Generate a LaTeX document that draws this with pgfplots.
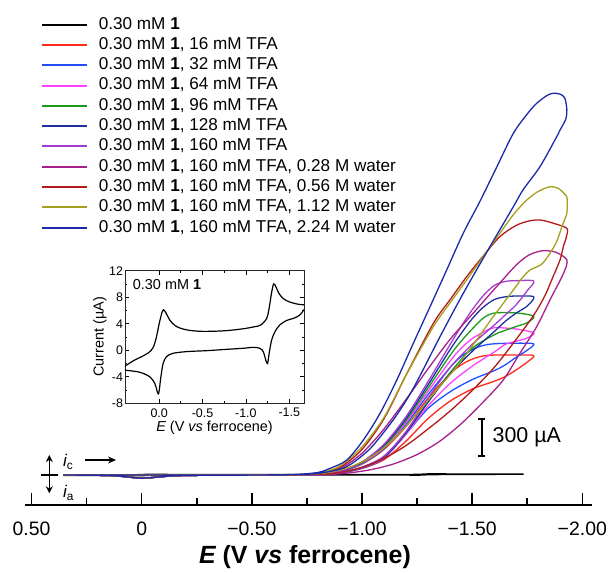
\documentclass[border=0pt]{standalone}
\usepackage{fontspec}
\setmainfont{Liberation Sans}
\usepackage{pgfplots}
\pgfplotsset{compat=1.18}
\usetikzlibrary{arrows.meta}

\definecolor{cA}{HTML}{000000}
\definecolor{cB}{HTML}{FF2A1A}
\definecolor{cC}{HTML}{1F4FFF}
\definecolor{cD}{HTML}{FF40FF}
\definecolor{cE}{HTML}{1A9A1A}
\definecolor{cF}{HTML}{2030A0}
\definecolor{cG}{HTML}{A33CD0}
\definecolor{cH}{HTML}{A8208A}
\definecolor{cI}{HTML}{B51A1A}
\definecolor{cJ}{HTML}{A5A020}
\definecolor{cK}{HTML}{1A2AAA}

\begin{document}
\begin{tikzpicture}
% ---------------- main voltammograms ----------------
\begin{axis}[
  at={(25bp,68bp)}, anchor=south west,
  scale only axis, width=566.7bp, height=505bp,
  x dir=reverse, xmin=-2.0427, xmax=0.5297,
  ymin=-234.4, ymax=3710.9,
  axis x line*=bottom, axis y line=none,
  axis line style={-, line width=1.6bp},
  xtick={0.5,0,-0.5,-1,-1.5,-2},
  xticklabels={0.50,0,−0.50,−1.00,−1.50,−2.00},
  minor xtick={0.25,-0.25,-0.75,-1.25,-1.75},
  tick align=inside,
  major tick length=12bp, minor tick length=7bp,
  every tick/.style={black, line width=1.5bp},
  xticklabel style={font=\fontsize{19.5}{21}\selectfont, yshift=-13bp},
  xlabel={\itshape E\upshape\ (V \itshape vs\upshape\ ferrocene)},
  xlabel style={font=\fontsize{25}{27}\selectfont\bfseries,
    at={(axis description cs:0.494,-0.1030)}, anchor=center},
  clip=false,
  every axis plot post/.append style={line width=1.3bp},
  legend style={at={(0.0277,0.9674)}, anchor=north west, draw=none, fill=none,
    inner sep=0pt, font=\fontsize{17.2}{19}\selectfont, row sep=4.3bp,
    cells={anchor=west},
    nodes={inner sep=0pt, text height=12.4bp, text depth=3.6bp}},
  legend image code/.code={\draw[#1, line width=2bp] (0bp,0bp) -- (45.6bp,0bp);
    \path (56.3bp,0bp);},
]
% 0.30 mM 1
\addplot[cA, smooth, tension=0.5] coordinates {
 (0.355,-2.0) (0.30,-1.6) (0.20,-0.95) (0.12,-0.35) (0.07,0.4) (0.035,1.8) (0.0,4.0)
 (-0.03,5.6) (-0.05,6.1) (-0.08,5.6) (-0.12,4.6) (-0.18,3.75) (-0.25,3.3) (-0.35,3.0)
 (-0.5,2.85) (-0.7,2.9) (-0.85,3.05) (-1.0,3.3) (-1.1,3.55) (-1.17,3.8) (-1.24,4.8)
 (-1.27,6.5) (-1.295,8.6) (-1.32,10.0) (-1.345,9.6) (-1.38,8.6) (-1.43,7.8) (-1.5,7.3)
 (-1.6,6.95) (-1.73,6.8)
 (-1.70,5.6) (-1.62,5.1) (-1.546,4.8) (-1.47,4.5) (-1.39,3.8) (-1.335,2.8) (-1.296,1.5)
 (-1.268,-0.5) (-1.25,-2.0) (-1.23,-1.5) (-1.2,-0.2) (-1.16,0.3) (-1.085,0.44) (-0.97,0.3)
 (-0.78,0.14) (-0.55,-0.06) (-0.32,-0.2) (-0.16,-0.46) (-0.085,-0.96) (-0.046,-1.97)
 (-0.02,-4.0) (0.005,-6.5) (0.025,-6.1) (0.05,-5.0) (0.108,-4.0) (0.22,-3.33) (0.355,-3.0)};
\addlegendentry{0.30 mM \textbf{1}}
% 16 mM TFA
\addplot[cB, smooth, tension=0.5] coordinates {
 (0.355,0) (0,0) (-0.5,0) (-0.7,2) (-0.8,5) (-0.9,25) (-1.0,85) (-1.1,200) (-1.2,379)
 (-1.3,601) (-1.4,790) (-1.45,860) (-1.5,905) (-1.55,930) (-1.6,937) (-1.7,938) (-1.78,933)
 (-1.75,882) (-1.7,821) (-1.65,769) (-1.6,732) (-1.5,671) (-1.4,577) (-1.3,441) (-1.2,265)
 (-1.1,120) (-1.0,51) (-0.9,15) (-0.8,3) (-0.6,0) (-0.3,-2) (-0.15,-6) (-0.08,-15) (0,-25)
 (0.07,-14) (0.15,-4) (0.355,0)};
\addlegendentry{0.30 mM \textbf{1}, 16 mM TFA}
% 32 mM TFA
\addplot[cC, smooth, tension=0.5] coordinates {
 (0.355,0) (0,0) (-0.5,0) (-0.7,2) (-0.8,5) (-0.9,26) (-1.0,88) (-1.1,208) (-1.2,395)
 (-1.3,628) (-1.4,840) (-1.45,925) (-1.5,980) (-1.55,1012) (-1.6,1025) (-1.7,1030) (-1.78,1024)
 (-1.75,975) (-1.7,920) (-1.65,860) (-1.6,815) (-1.5,745) (-1.4,650) (-1.3,520) (-1.2,320)
 (-1.1,130) (-1.0,53) (-0.9,16) (-0.8,3) (-0.6,0) (-0.3,-2) (-0.15,-6) (-0.08,-15) (0,-25)
 (0.07,-14) (0.15,-4) (0.355,0)};
\addlegendentry{0.30 mM \textbf{1}, 32 mM TFA}
% 64 mM TFA
\addplot[cD, smooth, tension=0.5] coordinates {
 (0.355,0) (0,0) (-0.5,0) (-0.7,2) (-0.8,5) (-0.9,27) (-1.0,92) (-1.1,216) (-1.2,410)
 (-1.3,655) (-1.4,890) (-1.45,990) (-1.5,1065) (-1.55,1115) (-1.6,1150) (-1.7,1140) (-1.78,1110)
 (-1.75,1070) (-1.7,1045) (-1.65,1020) (-1.6,960) (-1.5,850) (-1.4,715) (-1.3,540) (-1.2,320)
 (-1.1,135) (-1.0,56) (-0.9,16) (-0.8,3) (-0.6,0) (-0.3,-2) (-0.15,-6) (-0.08,-15) (0,-25)
 (0.07,-14) (0.15,-4) (0.355,0)};
\addlegendentry{0.30 mM \textbf{1}, 64 mM TFA}
% 96 mM TFA
\addplot[cE, smooth, tension=0.5] coordinates {
 (0.355,0) (0,0) (-0.5,0) (-0.7,2) (-0.8,6) (-0.9,28) (-1.0,95) (-1.1,224) (-1.2,426)
 (-1.3,680) (-1.4,935) (-1.45,1045) (-1.5,1140) (-1.55,1225) (-1.6,1265) (-1.7,1266) (-1.78,1240)
 (-1.75,1190) (-1.7,1160) (-1.65,1130) (-1.6,1095) (-1.5,990) (-1.4,800) (-1.3,570) (-1.2,330)
 (-1.1,140) (-1.0,58) (-0.9,17) (-0.8,4) (-0.6,0) (-0.3,-2) (-0.15,-6) (-0.08,-15) (0,-25)
 (0.07,-14) (0.15,-4) (0.355,0)};
\addlegendentry{0.30 mM \textbf{1}, 96 mM TFA}
% 128 mM TFA
\addplot[cF, smooth, tension=0.5] coordinates {
 (0.355,0) (0,0) (-0.5,0) (-0.7,2) (-0.8,6) (-0.9,29) (-1.0,99) (-1.1,232) (-1.2,441)
 (-1.3,705) (-1.4,980) (-1.45,1105) (-1.5,1220) (-1.55,1310) (-1.6,1370) (-1.65,1392) (-1.7,1398) (-1.78,1392)
 (-1.75,1320) (-1.7,1265) (-1.65,1200) (-1.6,1120) (-1.5,965) (-1.4,790) (-1.3,570) (-1.2,330)
 (-1.1,142) (-1.0,59) (-0.9,17) (-0.8,4) (-0.6,0) (-0.3,-2) (-0.15,-6) (-0.08,-15) (0,-25)
 (0.07,-14) (0.15,-4) (0.355,0)};
\addlegendentry{0.30 mM \textbf{1}, 128 mM TFA}
% 160 mM TFA
\addplot[cG, smooth, tension=0.5] coordinates {
 (0.355,0) (0,0) (-0.5,0) (-0.7,2) (-0.8,6) (-0.9,30) (-1.0,102) (-1.1,240) (-1.2,456)
 (-1.3,730) (-1.4,1020) (-1.45,1160) (-1.5,1290) (-1.55,1400) (-1.6,1480) (-1.65,1512) (-1.7,1518) (-1.78,1515)
 (-1.75,1440) (-1.7,1330) (-1.65,1250) (-1.6,1170) (-1.5,1020) (-1.4,840) (-1.3,600) (-1.2,340)
 (-1.1,148) (-1.0,61) (-0.9,18) (-0.8,4) (-0.6,0) (-0.3,-2) (-0.15,-6) (-0.08,-15) (0,-25)
 (0.07,-14) (0.15,-4) (0.355,0)};
\addlegendentry{0.30 mM \textbf{1}, 160 mM TFA}
% 160 mM TFA, 0.28 M water
\addplot[cH, smooth, tension=0.5] coordinates {
 (0.355,0) (0,0) (-0.5,0) (-0.7,2) (-0.8,10) (-0.9,50) (-1.0,170) (-1.1,360) (-1.2,590)
 (-1.3,830) (-1.4,1060) (-1.5,1255) (-1.6,1450) (-1.7,1640) (-1.76,1720) (-1.82,1752)
 (-1.88,1740) (-1.93,1680)
 (-1.915,1576) (-1.853,1367) (-1.793,1159) (-1.717,951) (-1.641,742) (-1.55,570) (-1.45,400)
 (-1.35,260) (-1.25,160) (-1.15,90) (-1.05,45) (-0.95,18) (-0.85,5) (-0.6,0) (-0.3,-2)
 (-0.15,-6) (-0.08,-15) (0,-25) (0.07,-14) (0.15,-4) (0.355,0)};
\addlegendentry{0.30 mM \textbf{1}, 160 mM TFA, 0.28 M water}
% 160 mM TFA, 0.56 M water
\addplot[cI, smooth, tension=0.5] coordinates {
 (0.355,0) (0,0) (-0.5,0) (-0.7,2) (-0.8,12) (-0.9,60) (-1.0,200) (-1.1,440) (-1.2,780)
 (-1.324,1185) (-1.4,1370) (-1.475,1549) (-1.55,1710) (-1.626,1862) (-1.7,1950) (-1.76,1985)
 (-1.81,1992) (-1.87,1966) (-1.93,1927)
 (-1.928,1862) (-1.914,1784) (-1.899,1680) (-1.87,1560) (-1.83,1400) (-1.78,1250) (-1.7,1060)
 (-1.6,840) (-1.5,660) (-1.4,500) (-1.3,360) (-1.2,230) (-1.1,130) (-1.0,60) (-0.9,20)
 (-0.8,5) (-0.6,0) (-0.3,-2) (-0.15,-6) (-0.08,-15) (0,-25) (0.07,-14) (0.15,-4) (0.355,0)};
\addlegendentry{0.30 mM \textbf{1}, 160 mM TFA, 0.56 M water}
% 160 mM TFA, 1.12 M water
\addplot[cJ, smooth, tension=0.5] coordinates {
 (0.355,0) (0,0) (-0.5,0) (-0.7,2) (-0.8,15) (-0.9,70) (-1.0,220) (-1.1,450) (-1.2,780)
 (-1.324,1159) (-1.4,1345) (-1.475,1523) (-1.55,1705) (-1.626,1888) (-1.69,2040) (-1.748,2148)
 (-1.80,2215) (-1.853,2252) (-1.89,2240) (-1.92,2195) (-1.931,2162)
 (-1.93,2047) (-1.91,1953) (-1.88,1810) (-1.82,1654) (-1.763,1602) (-1.73,1545) (-1.687,1445)
 (-1.596,1237) (-1.52,1055) (-1.43,846) (-1.339,664) (-1.25,480) (-1.15,290) (-1.05,150)
 (-0.95,65) (-0.85,20) (-0.75,4) (-0.6,0) (-0.3,-2) (-0.15,-6) (-0.08,-15) (0,-25)
 (0.07,-14) (0.15,-4) (0.355,0)};
\addlegendentry{0.30 mM \textbf{1}, 160 mM TFA, 1.12 M water}
% 160 mM TFA, 2.24 M water
\addplot[cK, smooth, tension=0.5] coordinates {
 (0.355,0) (0,0) (-0.5,0) (-0.7,5) (-0.8,20) (-0.855,52) (-0.931,117) (-1.006,273)
 (-1.082,482) (-1.158,742) (-1.233,1029) (-1.309,1315) (-1.384,1600) (-1.46,1890)
 (-1.536,2140) (-1.61,2400) (-1.687,2669) (-1.75,2820) (-1.793,2904) (-1.84,2965)
 (-1.868,2982) (-1.90,2975) (-1.921,2943) (-1.93,2852)
 (-1.925,2780) (-1.899,2695) (-1.884,2643) (-1.808,2409) (-1.732,2230) (-1.687,2096)
 (-1.581,1784) (-1.46,1420) (-1.354,1080) (-1.233,677) (-1.15,450) (-1.05,230) (-1.0,150)
 (-0.95,85) (-0.9,45) (-0.8,12) (-0.7,3) (-0.6,0) (-0.3,-2) (-0.15,-6) (-0.08,-15) (0,-25)
 (0.07,-14) (0.15,-4) (0.355,0)};
\addlegendentry{0.30 mM \textbf{1}, 160 mM TFA, 2.24 M water}
% current scale bar
\draw[line width=1.8bp, {Bar[width=7bp]}-{Bar[width=7bp]}]
  (axis cs:-1.543,143) -- (axis cs:-1.543,443);
\node[anchor=west, font=\fontsize{21.5}{23}\selectfont, xshift=7.5bp]
  at (axis cs:-1.543,293) {300 µA};
\end{axis}

% ---------------- inset: 1 alone ----------------
\begin{axis}[
  at={(125bp,169.7bp)}, anchor=south west,
  scale only axis, width=179bp, height=132.6bp,
  x dir=reverse, xmin=-1.67, xmax=0.394, ymin=-8, ymax=12,
  xtick={0,-0.5,-1,-1.5}, xticklabels={0.0,-0.5,-1.0,-1.5},
  ytick={-8,-4,0,4,8,12}, yticklabels={-8,-4,0,4,8,12},
  minor x tick num=1, minor y tick num=1,
  tick align=inside, xtick pos=both, ytick pos=both,
  major tick length=4bp, minor tick length=2.5bp,
  every tick/.style={black, line width=0.7bp},
  ticklabel style={font=\fontsize{12.5}{14}\selectfont},
  yticklabel style={xshift=1.5bp},
  xticklabel style={yshift=-1.5bp},
  xlabel={\itshape E\upshape\ (V \itshape vs\upshape\ ferrocene)},
  ylabel={Current (µA)},
  label style={font=\fontsize{14.5}{16}\selectfont},
  xlabel style={at={(axis description cs:0.5,-0.1850)}, anchor=center},
  ylabel style={at={(axis description cs:-0.140,0.5)}, anchor=center},
  axis background/.style={fill=white},
  axis line style={line width=0.8bp, black!85},
]
\addplot[black, line width=1.2bp, smooth, tension=0.5] coordinates {
 (0.40,-2.45) (0.30,-1.6) (0.20,-0.95) (0.12,-0.35) (0.07,0.4) (0.035,1.8) (0.0,4.0)
 (-0.03,5.6) (-0.05,6.1) (-0.08,5.6) (-0.12,4.6) (-0.18,3.75) (-0.25,3.3) (-0.35,3.0)
 (-0.5,2.85) (-0.7,2.9) (-0.85,3.05) (-1.0,3.3) (-1.1,3.55) (-1.17,3.8) (-1.24,4.8)
 (-1.27,6.5) (-1.295,8.6) (-1.32,10.0) (-1.345,9.6) (-1.38,8.6) (-1.43,7.8) (-1.5,7.3)
 (-1.6,6.95) (-1.69,6.8)
 (-1.69,6.5) (-1.62,5.3) (-1.546,4.8) (-1.47,4.5) (-1.39,3.8) (-1.335,2.8) (-1.296,1.5)
 (-1.268,-0.5) (-1.25,-2.0) (-1.23,-1.5) (-1.2,-0.2) (-1.16,0.3) (-1.085,0.44) (-0.97,0.3)
 (-0.78,0.14) (-0.55,-0.06) (-0.32,-0.2) (-0.16,-0.46) (-0.085,-0.96) (-0.046,-1.97)
 (-0.02,-4.0) (0.005,-6.5) (0.025,-6.1) (0.05,-5.0) (0.108,-4.0) (0.22,-3.33) (0.34,-3.08)
 (0.40,-3.0)};
\node[anchor=west, font=\fontsize{14.5}{16}\selectfont, inner sep=0pt]
  at (rel axis cs:0.043,0.892) {0.30 mM \textbf{1}};
\end{axis}

% ---------------- current direction key ----------------
\draw[line width=1.3bp, {Stealth[length=7bp,width=7bp]}-{Stealth[length=7bp,width=7bp]}]
  (49.3bp,118bp) -- (49.3bp,79.7bp);
\draw[line width=1.3bp] (40.5bp,98bp) -- (58bp,98bp);
\node[anchor=west, inner sep=0pt, font=\fontsize{17}{19}\selectfont] at (63bp,111bp) {\itshape i\upshape\textsubscript{c}};
\node[anchor=west, inner sep=0pt, font=\fontsize{17}{19}\selectfont] at (63bp,80bp) {\itshape i\upshape\textsubscript{a}};
\draw[line width=1.3bp, -{Stealth[length=8bp,width=7bp]}] (85bp,113bp) -- (116bp,113bp);

\pgfresetboundingbox
\path (0bp,0bp) rectangle (610bp,573bp);
\end{tikzpicture}
\end{document}
